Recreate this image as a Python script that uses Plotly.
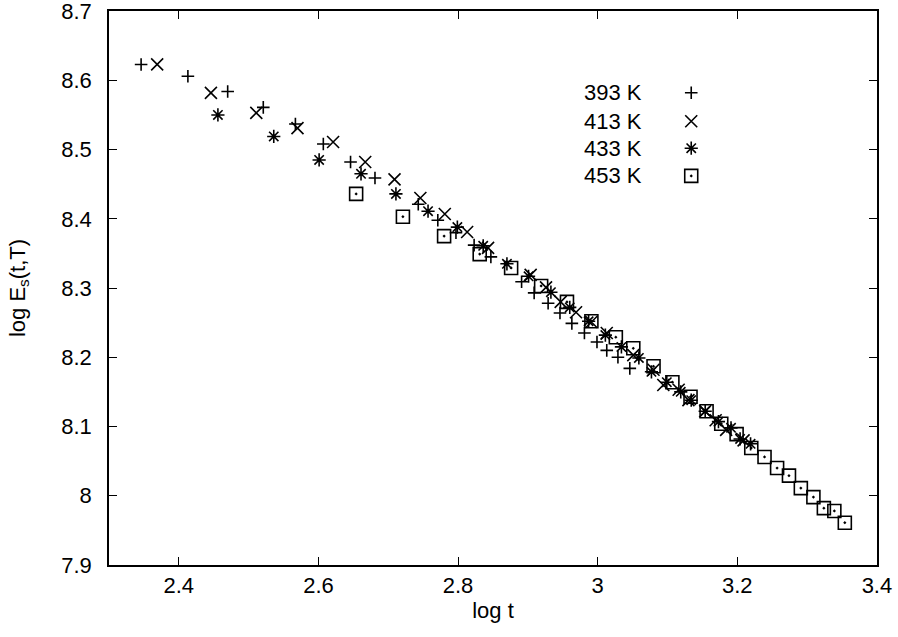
import plotly.graph_objects as go

# log t and log Es(t,T), one pair of lists per temperature
t393 = [2.346, 2.413, 2.470, 2.521, 2.567, 2.607, 2.646, 2.681, 2.743, 2.771, 2.797,
        2.823, 2.847, 2.891, 2.909, 2.929, 2.946, 2.963, 2.981, 2.999, 3.013, 3.029, 3.046]
e393 = [8.623, 8.606, 8.584, 8.561, 8.537, 8.508, 8.482, 8.459, 8.421, 8.398, 8.380,
        8.362, 8.345, 8.309, 8.293, 8.278, 8.264, 8.249, 8.235, 8.222, 8.210, 8.200, 8.184]

t413 = [2.369, 2.446, 2.511, 2.570, 2.621, 2.667, 2.709, 2.746, 2.781, 2.813, 2.843, 2.904,
        2.926, 2.947, 2.969, 2.991, 3.013, 3.051, 3.080, 3.094, 3.116, 3.130, 3.154, 3.169,
        3.184, 3.209]
e413 = [8.623, 8.582, 8.553, 8.531, 8.511, 8.482, 8.457, 8.430, 8.407, 8.381, 8.358, 8.319,
        8.301, 8.280, 8.265, 8.251, 8.235, 8.203, 8.182, 8.160, 8.153, 8.138, 8.122, 8.109,
        8.095, 8.080]

t433 = [2.456, 2.536, 2.601, 2.661, 2.711, 2.757, 2.799, 2.836, 2.870, 2.901, 2.933, 2.960,
        2.987, 3.011, 3.034, 3.059, 3.077, 3.099, 3.119, 3.134, 3.154, 3.173, 3.191, 3.204,
        3.219]
e433 = [8.550, 8.519, 8.485, 8.465, 8.436, 8.411, 8.388, 8.361, 8.335, 8.317, 8.294, 8.272,
        8.252, 8.232, 8.215, 8.199, 8.179, 8.164, 8.150, 8.138, 8.122, 8.107, 8.098, 8.082,
        8.075]

t453 = [2.654, 2.721, 2.780, 2.831, 2.876, 2.919, 2.956, 2.991, 3.026, 3.051, 3.080, 3.107,
        3.133, 3.156, 3.177, 3.199, 3.220, 3.239, 3.257, 3.274, 3.291, 3.309, 3.324, 3.339,
        3.354]
e453 = [8.436, 8.403, 8.375, 8.349, 8.329, 8.303, 8.280, 8.252, 8.229, 8.213, 8.187, 8.164,
        8.143, 8.122, 8.104, 8.089, 8.069, 8.056, 8.040, 8.029, 8.011, 7.998, 7.982, 7.978,
        7.961]

labels = ["393 K", "413 K", "433 K", "453 K"]
x_ticks = [2.4, 2.6, 2.8, 3.0, 3.2, 3.4]
x_tick_text = ["2.4", "2.6", "2.8", "3", "3.2", "3.4"]
y_ticks = [7.9, 8.0, 8.1, 8.2, 8.3, 8.4, 8.5, 8.6, 8.7]
y_tick_text = ["7.9", "8", "8.1", "8.2", "8.3", "8.4", "8.5", "8.6", "8.7"]

FONT = "Liberation Sans, Arial, sans-serif"
FS = 22
series = [(t393, e393), (t413, e413), (t433, e433), (t453, e453)]
symbols = [("cross-thin", 9), ("x-thin", 12), ("asterisk", 11), ("square-open-dot", 13)]

# gnuplot style key: label on the left, symbol on the right
key_x = 3.134
key_label_x = 3.067
key_y = [8.582, 8.541, 8.502, 8.462]

fig = go.Figure()
for (xs, ys), (sym, size), name in zip(series, symbols, labels):
    fig.add_trace(go.Scatter(
        x=xs, y=ys, mode="markers", name=name, showlegend=False,
        marker=dict(symbol=sym, size=size, color="black",
                    line=dict(color="black", width=1.6)),
    ))

for (sym, size), name, ky in zip(symbols, labels, key_y):
    fig.add_trace(go.Scatter(
        x=[key_x], y=[ky], mode="markers", showlegend=False, hoverinfo="skip",
        marker=dict(symbol=sym, size=size, color="black",
                    line=dict(color="black", width=1.6)),
    ))
    fig.add_annotation(x=key_label_x, y=ky, text=name, showarrow=False,
                       xanchor="right", yanchor="middle",
                       font=dict(family=FONT, size=FS, color="black"))

axis_common = dict(
    showgrid=False, zeroline=False, showline=True, linecolor="black", linewidth=1.6,
    mirror="ticks", ticks="inside", ticklen=8, tickwidth=1.2, tickcolor="black",
    tickfont=dict(family=FONT, size=FS, color="black"), automargin=False,
    ticklabeloverflow="allow",
)

fig.update_layout(
    width=898, height=637,
    margin=dict(l=109, r=21, t=11, b=72),
    paper_bgcolor="white", plot_bgcolor="white",
    font=dict(family=FONT, size=FS, color="black"),
    xaxis=dict(range=[2.3, 3.4001], tickvals=x_ticks, ticktext=x_tick_text,
               ticklabelstandoff=0,
               title=dict(text="log t", font=dict(family=FONT, size=FS), standoff=4),
               **axis_common),
    yaxis=dict(range=[7.8999, 8.7002], tickvals=y_ticks, ticktext=y_tick_text,
               ticklabelstandoff=11,
               title=dict(text="log E<sub>s</sub>(t,T)", font=dict(family=FONT, size=FS),
                          standoff=30),
               **axis_common),
)

# drop the browser's default body margin so the figure sits at the page origin
fig.write_html("out.html", config={"displayModeBar": False},
               post_script="document.body.style.margin='0';")
